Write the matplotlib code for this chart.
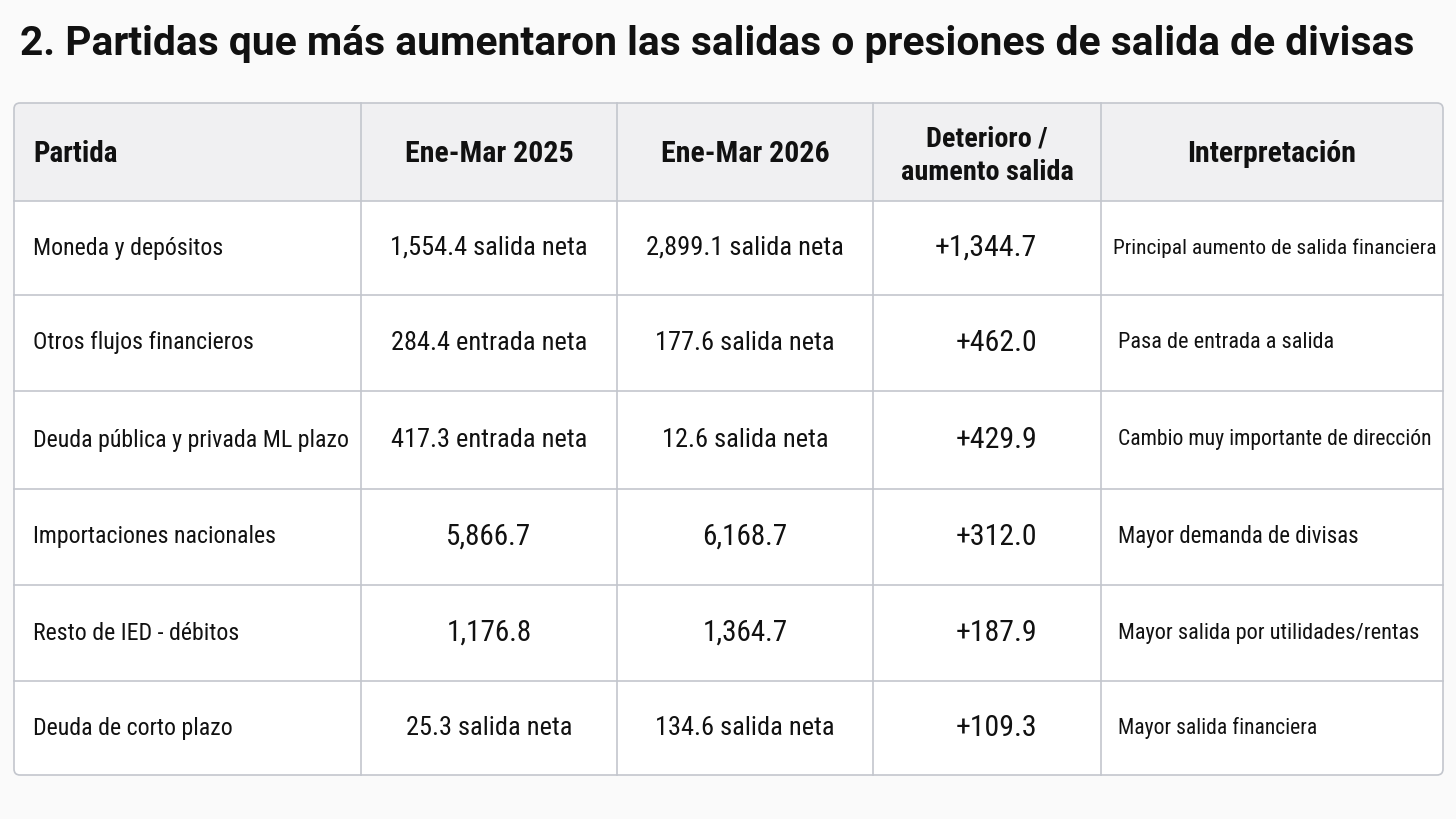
import matplotlib
matplotlib.use("Agg")
import matplotlib.pyplot as plt
from matplotlib.patches import FancyBboxPatch, Rectangle
from matplotlib import font_manager

# Datos de la tabla
titulo = "2. Partidas que más aumentaron las salidas o presiones de salida de divisas"
encabezados = ["Partida", "Ene-Mar 2025", "Ene-Mar 2026", "Deterioro /\naumento salida", "Interpretación"]
partidas = ["Moneda y depósitos", "Otros flujos financieros", "Deuda pública y privada ML plazo",
            "Importaciones nacionales", "Resto de IED - débitos", "Deuda de corto plazo"]
ene_mar_2025 = ["1,554.4 salida neta", "284.4 entrada neta", "417.3 entrada neta",
                "5,866.7", "1,176.8", "25.3 salida neta"]
ene_mar_2026 = ["2,899.1 salida neta", "177.6 salida neta", "12.6 salida neta",
                "6,168.7", "1,364.7", "134.6 salida neta"]
deterioro = ["+1,344.7", "+462.0", "+429.9", "+312.0", "+187.9", "+109.3"]
interpretacion = ["Principal aumento de salida financiera", "Pasa de entrada a salida",
                  "Cambio muy importante de dirección", "Mayor demanda de divisas",
                  "Mayor salida por utilidades/rentas", "Mayor salida financiera"]

names = {f.name for f in font_manager.fontManager.ttflist}
fam = [f for f in ["Roboto Condensed", "Liberation Sans Narrow", "DejaVu Sans Condensed", "Roboto"] if f in names]
plt.rcParams['font.family'] = fam + ["DejaVu Sans"]

W, H = 1456, 819
fig = plt.figure(figsize=(W / 100, H / 100), dpi=100)
fig.patch.set_facecolor("#fafafa")
ax = fig.add_axes([0, 0, 1, 1])
ax.set_xlim(0, W)
ax.set_ylim(H, 0)
ax.axis("off")

# layout
col_x = [14, 361, 617, 873, 1101, 1443]
row_y = [103, 201, 295, 391, 489, 585, 681, 775]
line_c = "#c3c6cd"
txt_c = "#111111"
interp_size = [15.4, 16, 15.6, 16.5, 16, 15.6]

ax.text(20, 44, titulo, fontsize=29.3, fontweight="bold", va="center", ha="left",
        color=txt_c, family=["Roboto", "DejaVu Sans"])

box = dict(boxstyle="round,pad=0,rounding_size=6")
ax.add_patch(FancyBboxPatch((col_x[0], row_y[0]), col_x[-1] - col_x[0], row_y[-1] - row_y[0],
                            fc="white", ec="none", zorder=1, **box))
ax.add_patch(FancyBboxPatch((col_x[0], row_y[0]), col_x[-1] - col_x[0], row_y[1] - row_y[0],
                            fc="#f0f0f2", ec="none", zorder=1.5, **box))
ax.add_patch(Rectangle((col_x[0] + 1, row_y[0] + 20), col_x[-1] - col_x[0] - 2, row_y[1] - row_y[0] - 20,
                       fc="#f0f0f2", ec="none", zorder=1.6))
for x in col_x[1:-1]:
    ax.plot([x, x], [row_y[0], row_y[-1]], color=line_c, lw=1.2, zorder=3)
for y in row_y[1:-1]:
    ax.plot([col_x[0], col_x[-1]], [y, y], color=line_c, lw=1.2, zorder=3)
ax.add_patch(FancyBboxPatch((col_x[0], row_y[0]), col_x[-1] - col_x[0], row_y[-1] - row_y[0],
                            fc="none", ec=line_c, lw=1.2, zorder=4, **box))

# encabezado
hy = (row_y[0] + row_y[1]) / 2 + 2
for i, h in enumerate(encabezados):
    if i == 0:
        ax.text(33, hy, h, fontsize=21, fontweight="bold", ha="left", va="center", color=txt_c, zorder=5)
    elif "\n" in h:
        cx = (col_x[i] + col_x[i + 1]) / 2
        ax.text(cx, hy + 2, h, fontsize=20.3, fontweight="bold", ha="center", va="center",
                color=txt_c, linespacing=1.3, zorder=5)
    else:
        cx = (col_x[i] + col_x[i + 1]) / 2
        ax.text(cx, hy, h, fontsize=21.5, fontweight="bold", ha="center", va="center",
                color=txt_c, zorder=5)

columnas = [partidas, ene_mar_2025, ene_mar_2026, deterioro, interpretacion]
for r in range(len(partidas)):
    cy = (row_y[r + 1] + row_y[r + 2]) / 2
    for c, col in enumerate(columnas):
        s = col[r]
        if c == 0:
            ax.text(33, cy, s, fontsize=17.2, ha="left", va="center", color=txt_c, zorder=5)
        elif c == 3:
            ax.text(1037, cy, s, fontsize=21.5, ha="right", va="center", color=txt_c, zorder=5)
        elif c == 4:
            ax.text(1113 if r == 0 else 1118, cy, s, fontsize=interp_size[r],
                    ha="left", va="center", color=txt_c, zorder=5)
        else:
            cx = (col_x[c] + col_x[c + 1]) / 2
            ax.text(cx, cy, s, fontsize=19 if " " in s else 21, ha="center", va="center",
                    color=txt_c, zorder=5)

fig.savefig("out.png", dpi=100, facecolor=fig.get_facecolor())
